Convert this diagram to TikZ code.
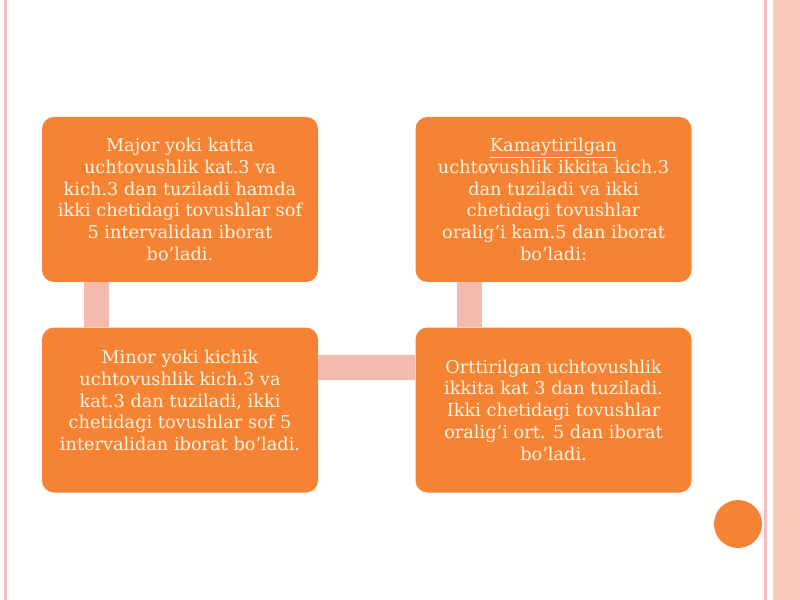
\documentclass[tikz,border=0pt]{standalone}
\usepackage{fontspec}
\setmainfont{DejaVu Serif}
\usepackage{tikz}
\usetikzlibrary{positioning}

\definecolor{boxorange}{RGB}{246,130,52}
\definecolor{boxtext}{RGB}{255,244,222}
\definecolor{linkpink}{RGB}{245,186,174}
\definecolor{edgepink}{RGB}{248,190,196}
\definecolor{stripe}{RGB}{250,200,184}

\tikzset{
  stage/.style={rectangle, rounded corners=9pt, fill=boxorange, text=boxtext,
    minimum width=207pt, minimum height=123.75pt, inner sep=0pt, align=center,
    font=\fontsize{13.3}{16.3}\selectfont},
  link/.style={draw=linkpink, line width=18.75pt}
}

\begin{document}
\begin{tikzpicture}[node distance=33.75pt]
        	\useasboundingbox (0,0) rectangle (600pt,-450pt);
            % slide frame
            \fill[edgepink] (3pt,0) rectangle (5.5pt,-450pt);
            \fill[edgepink] (573pt,0) rectangle (575pt,-450pt);
            \fill[stripe] (580pt,0) rectangle (600pt,-450pt);

        	\node[stage]  (major)  at (135pt,-149.6pt) {Major yoki katta\\uchtovushlik kat.3 va\\kich.3 dan tuziladi hamda\\ikki chetidagi tovushlar sof\\5 intervalidan iborat\\bo'ladi.};
  			\node[stage]   (kamay) [right=72.75pt of major]  {\underline{Kamaytirilgan}\\uchtovushlik ikkita kich.3\\dan tuziladi va ikki\\chetidagi tovushlar\\oralig'i kam.5 dan iborat\\bo'ladi:};
           \node[stage]   (minor) [below=of major]  {Minor yoki kichik\\uchtovushlik kich.3 va\\kat.3 dan tuziladi, ikki\\chetidagi tovushlar sof 5\\intervalidan iborat bo'ladi.\\[-2pt]~};
           \node[stage]   (ortt) [below=of kamay]  {Orttirilgan uchtovushlik\\ikkita kat 3 dan tuziladi.\\Ikki chetidagi tovushlar\\oralig'i ort. 5 dan iborat\\bo'ladi.};

           \node[circle, fill=boxorange, minimum size=36pt, inner sep=0pt] (dot) at (553.5pt,-393pt) {};

  			\draw[link] ([xshift=40.9pt]major.south west) -- ([xshift=40.9pt]minor.north west);
            \draw[link] ([yshift=-30pt]minor.north east) -- ([yshift=-30pt]ortt.north west);
            \draw[link] ([xshift=40.9pt]ortt.north west) -- ([xshift=40.9pt]kamay.south west);
             \end{tikzpicture}
\end{document}
